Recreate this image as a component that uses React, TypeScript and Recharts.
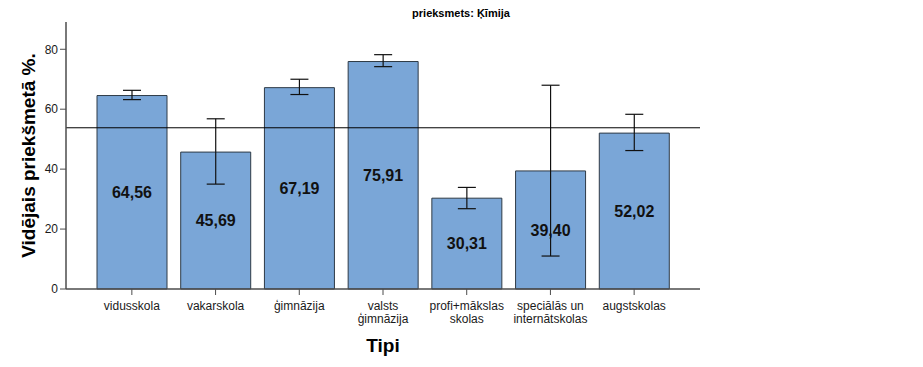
import React from 'react';
import {
  BarChart,
  Bar,
  XAxis,
  YAxis,
  ErrorBar,
  LabelList,
  ReferenceLine,
} from 'recharts';

const categories = [
  'vidusskola',
  'vakarskola',
  'ģimnāzija',
  'valsts\nģimnāzija',
  'profi+mākslas\nskolas',
  'speciālās un\ninternātskolas',
  'augstskolas',
];
const means = [64.56, 45.69, 67.19, 75.91, 30.31, 39.4, 52.02];
const lower = [63.2, 35.0, 64.9, 74.2, 26.8, 11.0, 46.2];
const upper = [66.3, 56.8, 70.0, 78.2, 33.9, 68.0, 58.3];
const yTicks = [0, 20, 40, 60, 80];
const overallMean = 53.8;

const data = categories.map((name, i) => ({
  name,
  mean: means[i],
  err: [means[i] - lower[i], upper[i] - means[i]],
}));

const FONT = '"Liberation Sans", Arial, sans-serif';
const INK = '#1a1a1a';
const FRAME = '#4d4d4d';

// category labels may have two lines, split on \n
const CategoryTick = ({ x, y, payload }: any) => {
  const lines = String(payload.value).split('\n');
  return (
    <text x={x} y={y + 13} textAnchor="middle" fontFamily={FONT} fontSize={12} fill={INK}>
      {lines.map((l, i) => (
        <tspan key={i} x={x} dy={i === 0 ? 0 : 13}>{l}</tspan>
      ))}
    </text>
  );
};

const fmt = (v: number) => v.toFixed(2).replace('.', ',');

export default function App() {
  return (
    <div style={{ position: 'absolute', left: 0, top: 0, width: 923, height: 367, background: '#fff' }}>
      <BarChart
        width={923}
        height={367}
        data={data}
        margin={{ top: 22, right: 223, bottom: 0, left: 0 }}
      >
        <text x={461} y={17} textAnchor="middle" fontFamily={FONT} fontSize={11} fontWeight="bold" fill="#000">
          prieksmets: Ķīmija
        </text>
        <XAxis
          dataKey="name"
          height={78}
          padding={{ left: 24, right: 24 }}
          interval={0}
          tick={<CategoryTick />}
          tickSize={6}
          tickLine={{ stroke: FRAME }}
          axisLine={{ stroke: FRAME, strokeWidth: 1.5 }}
          label={{ value: 'Tipi', position: 'insideBottom', offset: 15, fontFamily: FONT, fontSize: 19, fontWeight: 'bold', fill: '#000' }}
        />
        <XAxis xAxisId="top" dataKey="name" orientation="top" height={0} tick={false} tickLine={false} axisLine={{ stroke: FRAME, strokeWidth: 1.5 }} />
        <YAxis
          width={66}
          domain={[0, 89.1]}
          ticks={yTicks}
          tickSize={6}
          tick={{ fontFamily: FONT, fontSize: 12, fill: INK }}
          tickLine={{ stroke: FRAME }}
          axisLine={{ stroke: FRAME, strokeWidth: 1.5 }}
          label={{ value: 'Vidējais priekšmetā %.', angle: -90, position: 'insideLeft', offset: 28, style: { textAnchor: 'middle' }, fontFamily: FONT, fontSize: 19, fontWeight: 'bold', fill: '#000' }}
        />
        <YAxis yAxisId="right" orientation="right" width={0} domain={[0, 89.1]} tick={false} tickLine={false} axisLine={{ stroke: FRAME, strokeWidth: 1.5 }} />
        <Bar dataKey="mean" barSize={70} fill="#7aa6d7" stroke="#2e3a46" strokeWidth={1} isAnimationActive={false}>
          <LabelList dataKey="mean" position="center" formatter={fmt} fontFamily={FONT} fontSize={16} fontWeight="bold" fill="#111" />
          <ErrorBar dataKey="err" width={9} stroke="#111" strokeWidth={1.2} direction="y" />
        </Bar>
        <ReferenceLine y={overallMean} stroke="#000" strokeWidth={1} />
      </BarChart>
    </div>
  );
}
